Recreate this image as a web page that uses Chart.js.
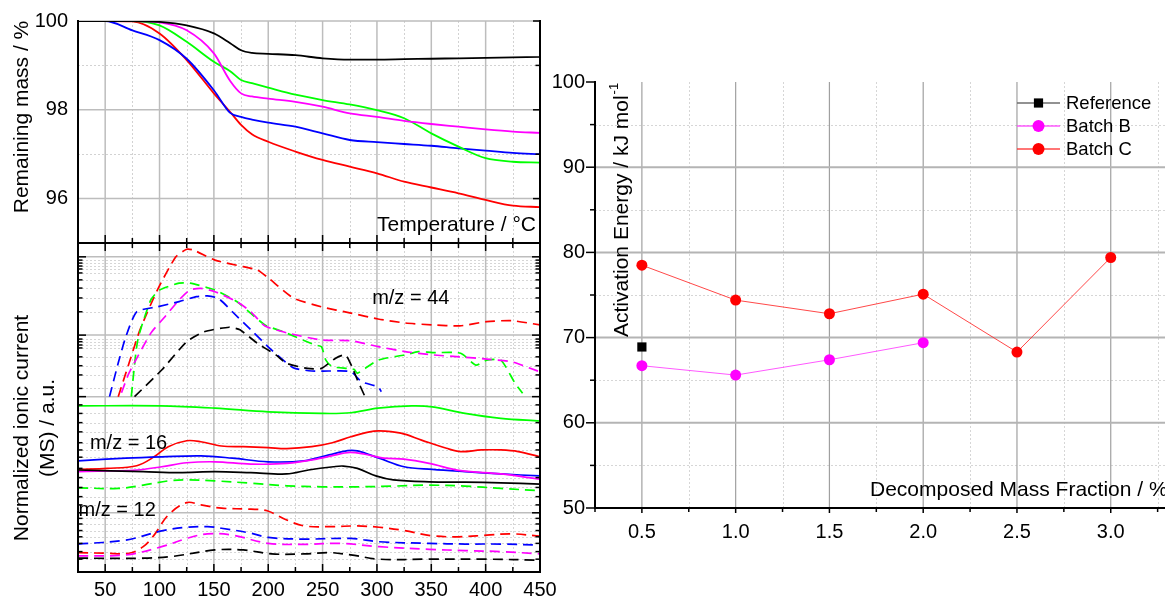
<!DOCTYPE html>
<html>
<head>
<meta charset="utf-8">
<script src="https://cdn.jsdelivr.net/npm/chart.js@4.4.1/dist/chart.umd.min.js"></script>
<style>
  html, body { margin: 0; padding: 0; background: #fff; overflow: hidden; width: 1165px; height: 599px; }
  .panel { position: absolute; }
  canvas { display: block; }
</style>
</head>
<body>
<div class="panel" style="left:0;top:0"><canvas id="tga" width="560" height="250"></canvas></div>
<div class="panel" style="left:0;top:236px"><canvas id="ms" width="560" height="363"></canvas></div>
<div class="panel" style="left:520px;top:0"><canvas id="ea" width="665" height="599"></canvas></div>
<script>
const FONT = "'Liberation Sans', Arial, Helvetica, sans-serif";

// ---- Thermogravimetry: remaining mass (%) vs temperature (°C) ----
const tgaTemps    = [25, 50, 75, 100, 125, 150, 165, 175, 185, 200, 225, 250, 275, 300, 325, 350, 375, 400, 425, 450];
const massBlack   = [100, 100, 100, 99.98, 99.9, 99.72, 99.5, 99.34, 99.28, 99.26, 99.23, 99.16, 99.13, 99.13, 99.14, 99.15, 99.16, 99.17, 99.18, 99.19];
const massMagenta = [100, 100, 100, 99.97, 99.79, 99.27, 98.65, 98.37, 98.3, 98.25, 98.18, 98.07, 97.92, 97.84, 97.75, 97.68, 97.62, 97.56, 97.51, 97.48];
const massGreen   = [100, 100, 100, 99.9, 99.53, 99.08, 98.87, 98.67, 98.6, 98.5, 98.34, 98.22, 98.12, 97.99, 97.81, 97.47, 97.17, 96.91, 96.83, 96.81];
const massBlue    = [100, 100, 99.79, 99.57, 99.15, 98.44, 97.93, 97.84, 97.78, 97.71, 97.62, 97.47, 97.32, 97.27, 97.23, 97.19, 97.13, 97.08, 97.03, 97.0];
const massRed     = [100, 100, 99.99, 99.72, 99.12, 98.37, 97.95, 97.66, 97.45, 97.28, 97.06, 96.87, 96.72, 96.57, 96.38, 96.25, 96.12, 95.97, 95.84, 95.81];

// ---- Mass spectrometry traces, [temperature, offset ionic current (a.u.)] ----
// m/z = 44 (dashed)
const ms44Black   = [[77,53.3],[102,61.4],[125,70.0],[141,73.0],[164,74.4],[174,73.6],[190,69.5],[207,66.0],[217,63.4],[236,61.9],[249,61.9],[262,65.0],[271,66.0],[277,62.4],[282,58.4],[289,53.3]];
const ms44Blue    = [[54,53.3],[62,63.5],[69,71.5],[79,79.1],[98,80.6],[118,82.2],[134,83.7],[144,83.9],[154,83.2],[167,79.1],[184,73.6],[203,67.5],[223,62.1],[240,61.1],[256,61.1],[276,60.9],[286,57.8],[301,56.3],[304,54.8]];
const ms44Magenta = [[65,54.5],[72,60.5],[92,72.6],[105,77.6],[118,82.7],[128,85.7],[138,86.2],[151,85.2],[171,82.2],[184,79.1],[197,74.8],[217,72.7],[249,70.5],[276,70.3],[301,68.5],[326,67.0],[351,66.0],[376,65.4],[401,64.7],[424,63.9],[447,61.2],[450,60.8]];
const ms44Green   = [[74,53.3],[80,70.5],[92,82.7],[100,85.7],[118,87.8],[128,87.8],[151,85.7],[171,82.2],[184,78.6],[197,75.1],[217,72.6],[243,69.0],[249,68.5],[253,64.4],[259,62.4],[279,61.6],[282,60.4],[301,64.4],[326,66.0],[338,67.0],[351,66.7],[377,66.5],[391,62.9],[401,64.4],[414,64.4],[427,57.4],[434,54.3]];
const ms44Red     = [[62,53.3],[72,63.5],[82,73.6],[98,85.7],[115,95.8],[125,98.1],[131,97.9],[151,94.8],[177,92.8],[190,91.8],[200,89.4],[223,83.3],[249,80.6],[276,78.7],[301,76.9],[326,75.7],[351,75.1],[376,74.8],[401,76.1],[424,76.4],[450,75.1]];
// m/z = 16 (solid)
const ms16Green   = [[25,50.5],[101,50.5],[151,49.8],[200,48.7],[249,48.2],[276,48.4],[301,49.8],[332,50.5],[351,50.2],[381,48.2],[414,46.7],[450,45.9]];
const ms16Black   = [[25,31.0],[85,30.5],[118,30.2],[151,30.5],[184,30.2],[217,29.8],[237,31.0],[260,32.0],[269,32.2],[282,31.5],[299,29.2],[315,28.0],[348,27.4],[381,27.3],[414,27.1],[450,26.7]];
const ms16Magenta = [[25,30.5],[79,31.0],[102,32.0],[125,33.2],[151,33.5],[184,32.8],[217,33.0],[249,34.6],[273,36.3],[289,35.8],[306,34.6],[325,34.3],[348,33.0],[377,30.8],[414,29.8],[450,28.2]];
const ms16Blue    = [[25,33.8],[69,34.6],[102,35.0],[138,35.3],[167,34.6],[200,33.5],[233,33.8],[256,35.6],[273,36.9],[282,36.8],[302,34.6],[325,32.0],[351,31.2],[381,30.5],[414,29.8],[450,29.2]];
const ms16Red     = [[25,31.2],[52,31.5],[79,32.3],[95,35.0],[108,38.1],[125,39.9],[138,39.6],[157,38.3],[177,38.1],[200,37.8],[217,37.5],[240,38.1],[259,39.3],[276,41.1],[292,42.5],[302,42.9],[322,42.2],[341,40.1],[364,37.6],[377,36.6],[396,37.1],[414,37.1],[430,36.6],[450,35.0]];
// m/z = 12 (dashed)
const ms12Green   = [[25,25.6],[62,25.4],[85,26.4],[108,27.7],[125,28.0],[151,27.7],[184,27.0],[217,26.2],[249,25.9],[282,25.9],[315,26.1],[348,26.4],[381,26.1],[414,25.4],[450,24.7]];
const ms12Black   = [[25,4.2],[85,4.2],[111,4.7],[151,6.7],[177,6.7],[203,5.5],[233,5.5],[256,5.9],[276,5.2],[302,3.9],[348,3.9],[401,3.9],[450,3.6]];
const ms12Magenta = [[25,4.9],[69,5.2],[102,7.7],[125,10.2],[144,11.6],[167,11.2],[200,8.7],[233,8.4],[266,8.7],[302,7.7],[348,6.9],[381,6.5],[414,6.2],[450,5.5]];
const ms12Blue    = [[25,8.5],[69,9.7],[102,12.5],[125,13.6],[144,13.8],[157,13.3],[184,11.8],[200,10.5],[233,10.0],[276,10.2],[302,9.2],[348,8.7],[381,8.5],[414,8.5],[450,8.2]];
const ms12Red     = [[25,5.9],[52,5.7],[72,5.7],[85,7.7],[95,11.2],[108,17.3],[125,21.1],[138,20.4],[157,19.4],[184,19.1],[199,18.6],[217,15.8],[233,14.0],[259,13.8],[282,14.0],[302,13.6],[325,12.6],[351,11.0],[375,10.7],[401,11.2],[424,11.6],[450,10.9]];

// ---- Activation energy vs decomposed mass fraction ----
const fractions   = [0.5, 1.0, 1.5, 2.0, 2.5, 3.0];
const eaReference = [68.9];
const eaBatchB    = [66.7, 65.6, 67.4, 69.4];
const eaBatchC    = [78.5, 74.4, 72.8, 75.1, 68.3, 79.4];

// ---- Tick values ----
const tempTicks  = [50, 100, 150, 200, 250, 300, 350, 400, 450];
const tempMinor  = [75, 125, 175, 225, 275, 325, 375, 425];
const massTicks  = [96, 98, 100];
const massMinor  = [97, 99];
const msMajor    = [95.8, 72.0, 53.3, 18.0];
const msMinor    = [94.8, 93.9, 93.0, 92.1, 90.9, 88.8, 86.3, 83.3, 79.1, 70.8, 70.0, 69.0, 68.1, 65.4, 62.7, 59.9, 55.8,
                    50.8, 48.2, 45.4, 42.6, 39.3, 37.1, 34.9, 31.5, 28.7, 25.7, 22.9, 20.4, 16.3, 14.6, 12.6, 10.7, 8.7, 6.2, 3.9];
const eaTicks    = [50, 60, 70, 80, 90, 100];
const eaMinor    = [55, 65, 75, 85, 95];
const fracMinor  = [0.25, 0.75, 1.25, 1.75, 2.25, 2.75, 3.25];

// Grid lines, axis frame and tick marks drawn through the chart's scales
function frameGrid(cfg) {
  const seg = (ctx, x1, y1, x2, y2) => { ctx.beginPath(); ctx.moveTo(x1, y1); ctx.lineTo(x2, y2); ctx.stroke(); };
  return {
    id: 'frameGrid',
    beforeDatasetsDraw(chart) {
      const { ctx, chartArea: a } = chart;
      const x = chart.scales.x, y = chart.scales.y;
      ctx.save();
      ctx.lineWidth = 1;
      ctx.strokeStyle = cfg.minorColor;
      ctx.setLineDash([2, 2]);
      cfg.xMinor.forEach(v => { const p = Math.round(x.getPixelForValue(v)) + 0.5; seg(ctx, p, a.top, p, a.bottom); });
      cfg.yMinor.forEach(v => { const p = Math.round(y.getPixelForValue(v)) + 0.5; seg(ctx, a.left, p, a.right, p); });
      ctx.setLineDash([]);
      ctx.strokeStyle = cfg.vColor; ctx.lineWidth = cfg.vWidth;
      cfg.xMajor.forEach(v => { const p = x.getPixelForValue(v); seg(ctx, p, a.top, p, a.bottom); });
      ctx.strokeStyle = cfg.hColor; ctx.lineWidth = cfg.hWidth;
      cfg.yMajor.forEach(v => { const p = y.getPixelForValue(v); seg(ctx, a.left, p, a.right, p); });
      ctx.restore();
    },
    afterDatasetsDraw(chart) {
      const { ctx, chartArea: a } = chart;
      const x = chart.scales.x, y = chart.scales.y;
      ctx.save();
      ctx.strokeStyle = '#000';
      for (const s of cfg.sides) {
        const horiz = s.side === 'top' || s.side === 'bottom';
        const scale = horiz ? x : y;
        const base = a[s.side];
        const sign = (s.side === 'left' || s.side === 'top' ? 1 : -1) * (s.inward ? 1 : -1);
        const h = cfg.axisWidth / 2;
        ctx.lineWidth = cfg.axisWidth;
        if (horiz) seg(ctx, a.left - h, base, a.right + h, base);
        else seg(ctx, base, a.top - h, base, a.bottom + h);
        ctx.lineWidth = cfg.tickWidth;
        const tick = (v, len) => {
          const p = scale.getPixelForValue(v);
          if (horiz) seg(ctx, p, base, p, base + sign * len);
          else seg(ctx, base, p, base + sign * len, p);
        };
        (s.major || []).forEach(v => tick(v, s.majorLen));
        (s.minor || []).forEach(v => tick(v, s.minorLen));
      }
      ctx.restore();
    }
  };
}

// Free text: axis titles inside the plot and series annotations
function textLayer(items) {
  return {
    id: 'textLayer',
    afterDraw(chart) {
      const ctx = chart.ctx;
      for (const t of items) {
        ctx.save();
        let px = t.x, py = t.y;
        if (t.at) { px = chart.scales.x.getPixelForValue(t.at[0]); py = chart.scales.y.getPixelForValue(t.at[1]); }
        ctx.translate(px, py);
        if (t.rotate) ctx.rotate(-Math.PI / 2);
        ctx.font = t.size + 'px ' + FONT;
        ctx.fillStyle = '#000';
        ctx.textAlign = t.align || 'center';
        ctx.textBaseline = 'middle';
        ctx.fillText(t.text, 0, 0);
        if (t.sup) {
          const w = ctx.measureText(t.text).width;
          ctx.font = Math.round(t.size * 0.62) + 'px ' + FONT;
          ctx.textAlign = 'left';
          ctx.fillText(t.sup, w + 1, -t.size * 0.36);
        }
        ctx.restore();
      }
    }
  };
}

const pts = (xs, ys) => ys.map((v, i) => ({ x: xs[i], y: v }));
const pairs = arr => arr.map(([x, y]) => ({ x, y }));

const common = {
  responsive: false, animation: false, devicePixelRatio: 1, events: [],
  plugins: { legend: { display: false }, tooltip: { enabled: false } }
};
const hiddenGrid = { display: false, drawTicks: false };
// fixed axis box so label overhang does not shift the plot area
const fixBox = (w, h) => s => {
  if (w !== null) s.width = w;
  if (h !== null) s.height = h;
  s.paddingTop = 0; s.paddingBottom = 0; s.paddingLeft = 0; s.paddingRight = 0;
};

// ---------- Top left: thermogravimetry ----------
const tgaLine = (label, ys, color) => ({
  label, data: pts(tgaTemps, ys), borderColor: color, borderWidth: 1.8,
  pointRadius: 0, cubicInterpolationMode: 'monotone', fill: false
});
new Chart(document.getElementById('tga'), {
  type: 'line',
  data: { datasets: [
    tgaLine('black', massBlack, '#000000'),
    tgaLine('magenta', massMagenta, '#ff00ff'),
    tgaLine('green', massGreen, '#00ff00'),
    tgaLine('blue', massBlue, '#0000ff'),
    tgaLine('red', massRed, '#ff0000')
  ] },
  options: Object.assign({}, common, {
    layout: { padding: { left: 0, right: 20, top: 21, bottom: 0 } },
    scales: {
      x: { type: 'linear', min: 25, max: 450, grid: hiddenGrid, border: { display: false },
           ticks: { display: false }, afterFit: fixBox(null, 7) },
      y: { type: 'linear', min: 95, max: 100, grid: hiddenGrid, border: { display: false },
           afterBuildTicks: s => { s.ticks = massTicks.map(v => ({ value: v })); },
           ticks: { color: '#000', font: { family: FONT, size: 20 }, padding: 10 },
           afterFit: fixBox(78, null) }
    }
  }),
  plugins: [
    frameGrid({
      xMajor: tempTicks.slice(0, -1), xMinor: tempMinor, yMajor: massTicks, yMinor: massMinor,
      minorColor: '#d2d2d2', vColor: '#bdbdbd', vWidth: 1.5, hColor: '#bdbdbd', hWidth: 1.5,
      axisWidth: 2, tickWidth: 1.5,
      sides: [
        { side: 'left' },
        { side: 'right', inward: true, major: massTicks, minor: massMinor, majorLen: 7, minorLen: 4.5 },
        { side: 'bottom', inward: true, major: tempTicks, minor: tempMinor, majorLen: 8, minorLen: 5 }
      ]
    }),
    textLayer([
      { text: 'Remaining mass / %', x: 22, y: 117, rotate: true, size: 21 },
      { text: 'Temperature / °C', x: 536, y: 225, align: 'right', size: 21 }
    ])
  ]
});

// ---------- Bottom left: mass spectrometry ----------
const msLine = (label, arr, color, dashed, tension) => ({
  label, data: pairs(arr), borderColor: color, borderWidth: 1.7,
  borderDash: dashed ? [10, 6] : [], pointRadius: 0, tension, fill: false
});
new Chart(document.getElementById('ms'), {
  type: 'line',
  data: { datasets: [
    msLine('44 black', ms44Black, '#000000', true, 0.2),
    msLine('44 blue', ms44Blue, '#0000ff', true, 0.2),
    msLine('44 magenta', ms44Magenta, '#ff00ff', true, 0.2),
    msLine('44 green', ms44Green, '#00ff00', true, 0.2),
    msLine('44 red', ms44Red, '#ff0000', true, 0.2),
    msLine('16 green', ms16Green, '#00ff00', false, 0.35),
    msLine('16 black', ms16Black, '#000000', false, 0.35),
    msLine('16 magenta', ms16Magenta, '#ff00ff', false, 0.35),
    msLine('16 blue', ms16Blue, '#0000ff', false, 0.35),
    msLine('16 red', ms16Red, '#ff0000', false, 0.35),
    msLine('12 green', ms12Green, '#00ff00', true, 0.35),
    msLine('12 black', ms12Black, '#000000', true, 0.35),
    msLine('12 magenta', ms12Magenta, '#ff00ff', true, 0.35),
    msLine('12 blue', ms12Blue, '#0000ff', true, 0.35),
    msLine('12 red', ms12Red, '#ff0000', true, 0.35)
  ] },
  options: Object.assign({}, common, {
    layout: { padding: { left: 0, right: 20, top: 7, bottom: 0 } },
    scales: {
      x: { type: 'linear', min: 25, max: 450, grid: hiddenGrid, border: { display: false },
           afterBuildTicks: s => { s.ticks = tempTicks.map(v => ({ value: v })); },
           ticks: { color: '#000', font: { family: FONT, size: 20 }, padding: 6, maxRotation: 0 },
           afterFit: fixBox(null, 27) },
      y: { type: 'linear', min: 0, max: 100, grid: hiddenGrid, border: { display: false },
           ticks: { display: false }, afterFit: fixBox(78, null) }
    }
  }),
  plugins: [
    frameGrid({
      xMajor: tempTicks.slice(0, -1), xMinor: tempMinor, yMajor: msMajor, yMinor: msMinor,
      minorColor: '#d6d6d6', vColor: '#bdbdbd', vWidth: 1.5, hColor: '#bdbdbd', hWidth: 1.5,
      axisWidth: 2, tickWidth: 1.5,
      sides: [
        { side: 'top', inward: true, major: tempTicks, minor: tempMinor, majorLen: 8, minorLen: 5 },
        { side: 'bottom', inward: true, major: tempTicks, minor: tempMinor, majorLen: 8, minorLen: 5 },
        { side: 'left', inward: true, major: msMajor, minor: msMinor, majorLen: 8, minorLen: 4.5 },
        { side: 'right', inward: true, major: msMajor, minor: msMinor, majorLen: 8, minorLen: 4.5 }
      ]
    }),
    textLayer([
      { text: 'Normalized ionic current', x: 22, y: 192, rotate: true, size: 21 },
      { text: '(MS) / a.u.', x: 48, y: 192, rotate: true, size: 21 },
      { text: 'm/z = 44', at: [295.6, 83.0], align: 'left', size: 20 },
      { text: 'm/z = 16', at: [36, 39.2], align: 'left', size: 20 },
      { text: 'm/z = 12', at: [25.5, 18.8], align: 'left', size: 20 }
    ])
  ]
});

// ---------- Right: activation energy ----------
const eaSeries = (label, ys, line, fillColor, style, radius) => ({
  label, data: pts(fractions, ys), borderColor: line, borderWidth: 1,
  pointStyle: style, pointRadius: radius, pointBackgroundColor: fillColor,
  pointBorderColor: fillColor, pointBorderWidth: 0, tension: 0, fill: false
});
const eaData = [
  eaSeries('Reference', eaReference, '#6e6e6e', '#000000', 'rect', 6.5),
  eaSeries('Batch B', eaBatchB, 'rgba(255,60,255,0.85)', '#ff00ff', 'circle', 5.5),
  eaSeries('Batch C', eaBatchC, 'rgba(255,40,40,0.85)', '#ff0000', 'circle', 5.5)
];

// Legend rows with a line sample and marker
const eaLegend = {
  id: 'eaLegend',
  afterDraw(chart) {
    const ctx = chart.ctx;
    const left = 497, lineLen = 43, top = 103, gap = 23;
    ctx.save();
    ctx.font = '18.5px ' + FONT;
    ctx.textBaseline = 'middle';
    ctx.textAlign = 'left';
    chart.data.datasets.forEach((ds, i) => {
      const cy = top + i * gap;
      ctx.strokeStyle = ds.borderColor;
      ctx.lineWidth = 1.5;
      ctx.beginPath(); ctx.moveTo(left, cy); ctx.lineTo(left + lineLen, cy); ctx.stroke();
      const mx = left + lineLen / 2;
      ctx.fillStyle = ds.pointBackgroundColor;
      if (ds.pointStyle === 'rect') {
        const hs = ds.pointRadius * Math.SQRT1_2;
        ctx.fillRect(mx - hs, cy - hs, 2 * hs, 2 * hs);
      } else {
        ctx.beginPath(); ctx.arc(mx, cy, ds.pointRadius + 0.5, 0, Math.PI * 2); ctx.fill();
      }
      ctx.fillStyle = '#000';
      ctx.fillText(ds.label, left + lineLen + 6, cy + 1);
    });
    ctx.restore();
  }
};

new Chart(document.getElementById('ea'), {
  type: 'line',
  data: { datasets: eaData },
  options: Object.assign({}, common, {
    layout: { padding: { left: 0, right: 18, top: 82, bottom: 0 } },
    scales: {
      x: { type: 'linear', min: 0.25, max: 3.3, grid: hiddenGrid, border: { display: false },
           afterBuildTicks: s => { s.ticks = fractions.map(v => ({ value: v })); },
           ticks: { color: '#000', font: { family: FONT, size: 20 }, padding: 12, maxRotation: 0,
                    callback: v => Number(v).toFixed(1) },
           afterFit: fixBox(null, 91) },
      y: { type: 'linear', min: 50, max: 100, grid: hiddenGrid, border: { display: false },
           afterBuildTicks: s => { s.ticks = eaTicks.map(v => ({ value: v })); },
           ticks: { color: '#000', font: { family: FONT, size: 20 }, padding: 10 },
           afterFit: fixBox(75, null) }
    }
  }),
  plugins: [
    frameGrid({
      xMajor: fractions, xMinor: fracMinor, yMajor: [60, 70, 80, 90], yMinor: eaMinor,
      minorColor: '#d6d6d6', vColor: '#a0a0a0', vWidth: 1.2, hColor: '#b4b4b4', hWidth: 2,
      axisWidth: 2, tickWidth: 1.5,
      sides: [
        { side: 'left', inward: false, major: eaTicks, minor: eaMinor, majorLen: 9, minorLen: 5 },
        { side: 'bottom', inward: false, major: fractions, minor: fracMinor, majorLen: 5, minorLen: 4 }
      ]
    }),
    textLayer([
      { text: 'Activation Energy / kJ mol', sup: '-1', x: 102, y: 337, rotate: true, align: 'left', size: 21 },
      { text: 'Decomposed Mass Fraction / %', x: 350, y: 490, align: 'left', size: 21 }
    ]),
    eaLegend
  ]
});
</script>
</body>
</html>
